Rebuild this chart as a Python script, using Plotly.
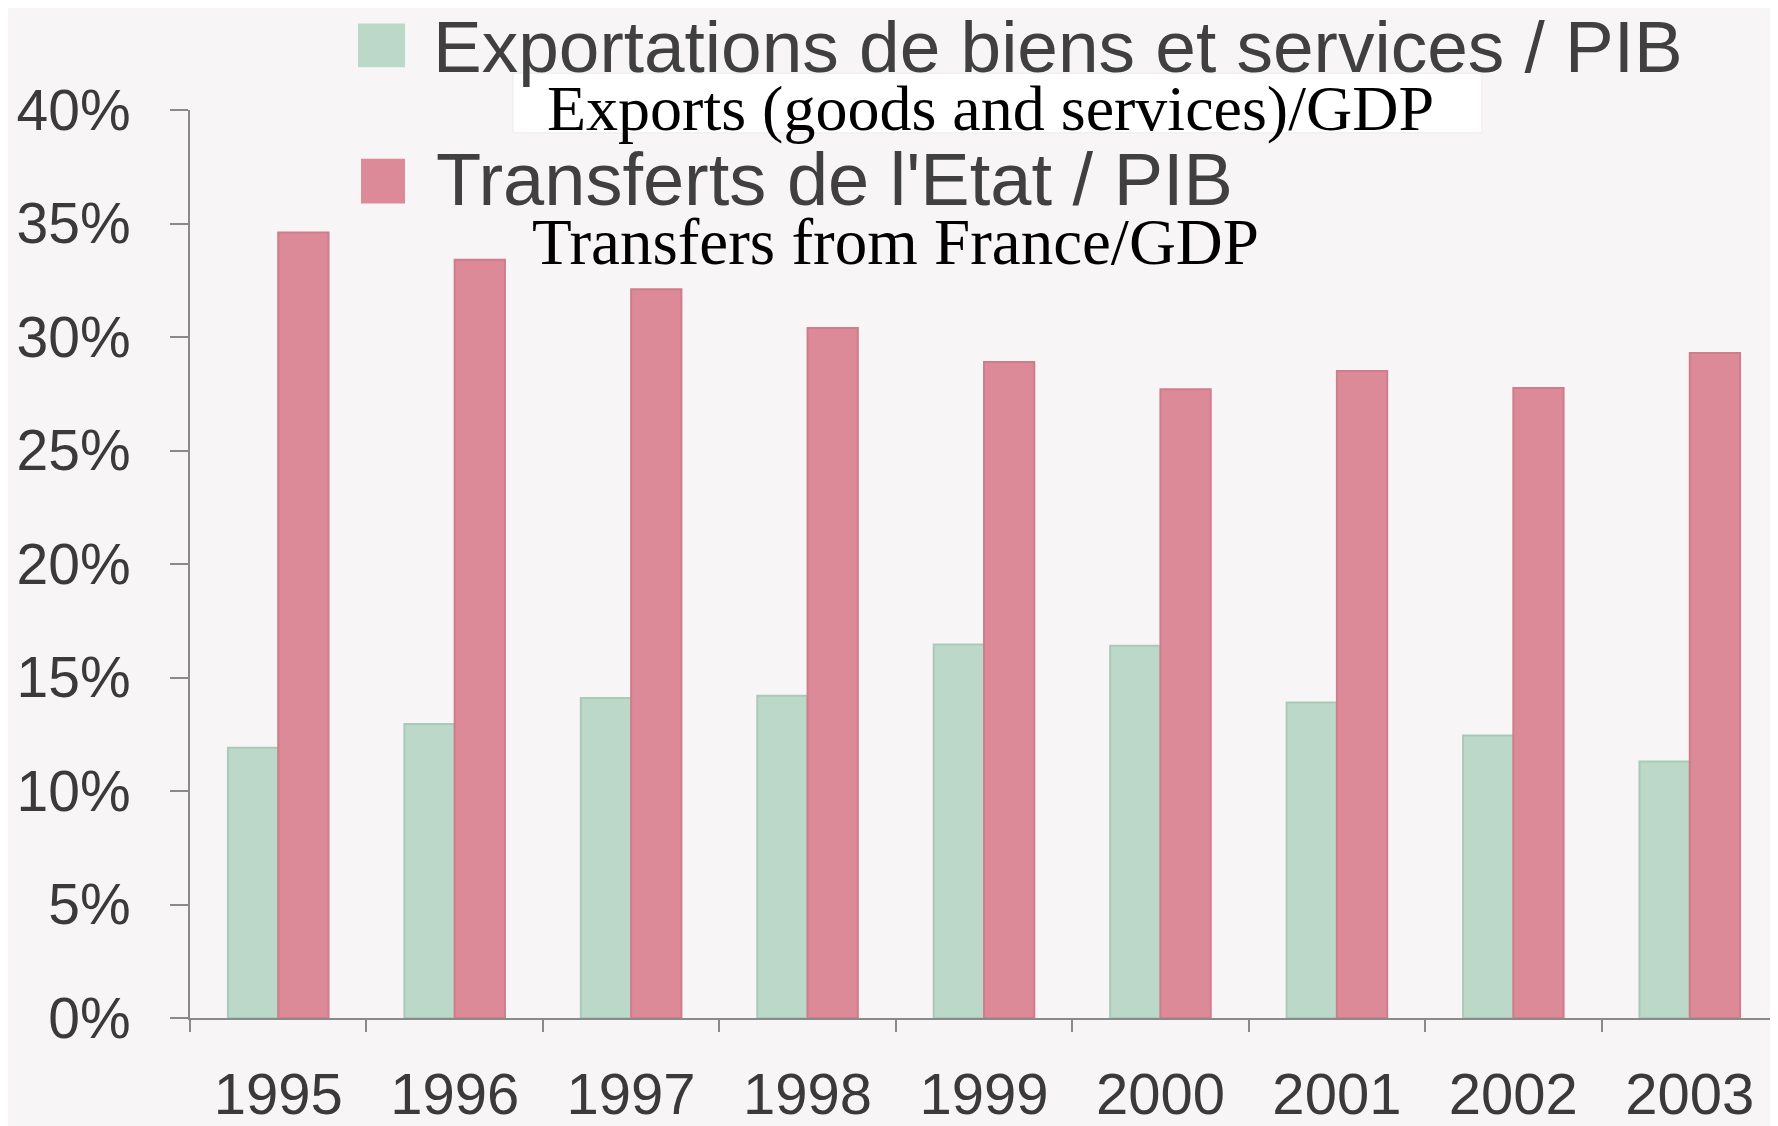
import plotly.graph_objects as go

years = ["1995", "1996", "1997", "1998", "1999", "2000", "2001", "2002", "2003"]
exports_gdp = [11.9, 12.95, 14.1, 14.2, 16.45, 16.4, 13.9, 12.45, 11.3]
transfers_gdp = [34.6, 33.4, 32.1, 30.4, 28.9, 27.7, 28.5, 27.75, 29.3]
y_ticks = [0, 5, 10, 15, 20, 25, 30, 35, 40]
y_tick_labels = [f"{v}%" for v in y_ticks]

OFF = 8  # default page body margin
W, H = 1778 - OFF, 1126 - OFF
L, R, T, B = 190 - OFF, 0, 110 - OFF, 102
PW, PH = W - L - R, H - T - B

def px(x):
    return (x - OFF - L) / PW

def py(y):
    return (H - B - (y - OFF)) / PH

GREEN = "#bcd8c8"
RED = "#dc8a98"
BG = "#f8f5f7"

fig = go.Figure()
fig.add_trace(go.Bar(x=years, y=exports_gdp, name="Exportations de biens et services / PIB",
                     marker=dict(color=GREEN, line=dict(color="#abc9b8", width=2))))
fig.add_trace(go.Bar(x=years, y=transfers_gdp, name="Transferts de l'Etat / PIB",
                     marker=dict(color=RED, line=dict(color="#d07d8b", width=2))))

sans = "Liberation Sans, Arial, sans-serif"
serif = "Liberation Serif, Times New Roman, serif"

fig.update_layout(
    width=W, height=H,
    margin=dict(l=L, r=R, t=T, b=B),
    paper_bgcolor=BG, plot_bgcolor=BG,
    barmode="group", bargap=0.43, bargroupgap=0,
    showlegend=False,
    xaxis=dict(type="category", showline=True, linecolor="#8a8a8a", linewidth=2,
               ticks="outside", ticklen=12, tickcolor="#8a8a8a", tickwidth=2,
               tickson="boundaries", showgrid=False,
               tickfont=dict(family=sans, size=58, color="#3a3a3a"),
               ticklabelstandoff=24),
    yaxis=dict(range=[0, 40], tickvals=y_ticks, ticktext=y_tick_labels,
               showline=True, linecolor="#8a8a8a", linewidth=2,
               ticks="outside", ticklen=18, tickcolor="#8a8a8a", tickwidth=2,
               showgrid=False, zeroline=False,
               tickfont=dict(family=sans, size=57, color="#3a3a3a"),
               ticklabelstandoff=28),
)

shapes = [
    dict(type="rect", xref="paper", yref="paper", x0=px(358), x1=px(405), y0=py(23), y1=py(67),
         fillcolor=GREEN, line=dict(width=0)),
    dict(type="rect", xref="paper", yref="paper", x0=px(361), x1=px(405), y0=py(159), y1=py(204),
         fillcolor=RED, line=dict(width=0)),
    dict(type="rect", xref="paper", yref="paper", x0=px(513), x1=px(1482), y0=py(73), y1=py(133),
         fillcolor="white", line=dict(color="#ebebeb", width=1), layer="above"),
]
fig.update_layout(shapes=shapes)

ann = [
    dict(text="Exportations de biens et services / PIB", x=px(432), y=py(46), xanchor="left", yanchor="middle",
         font=dict(family=sans, size=73, color="#404040")),
    dict(text="Exports (goods and services)/GDP", x=px(990), y=py(108), xanchor="center", yanchor="middle",
         font=dict(family=serif, size=64, color="black")),
    dict(text="Transferts de l'Etat / PIB", x=px(435), y=py(180), xanchor="left", yanchor="middle",
         font=dict(family=sans, size=74, color="#404040")),
    dict(text="Transfers from France/GDP", x=px(531), y=py(243), xanchor="left", yanchor="middle",
         font=dict(family=serif, size=65, color="black")),
]
for a in ann:
    a.update(xref="paper", yref="paper", showarrow=False, borderpad=0)
fig.update_layout(annotations=ann)

fig.write_html("out.html")
